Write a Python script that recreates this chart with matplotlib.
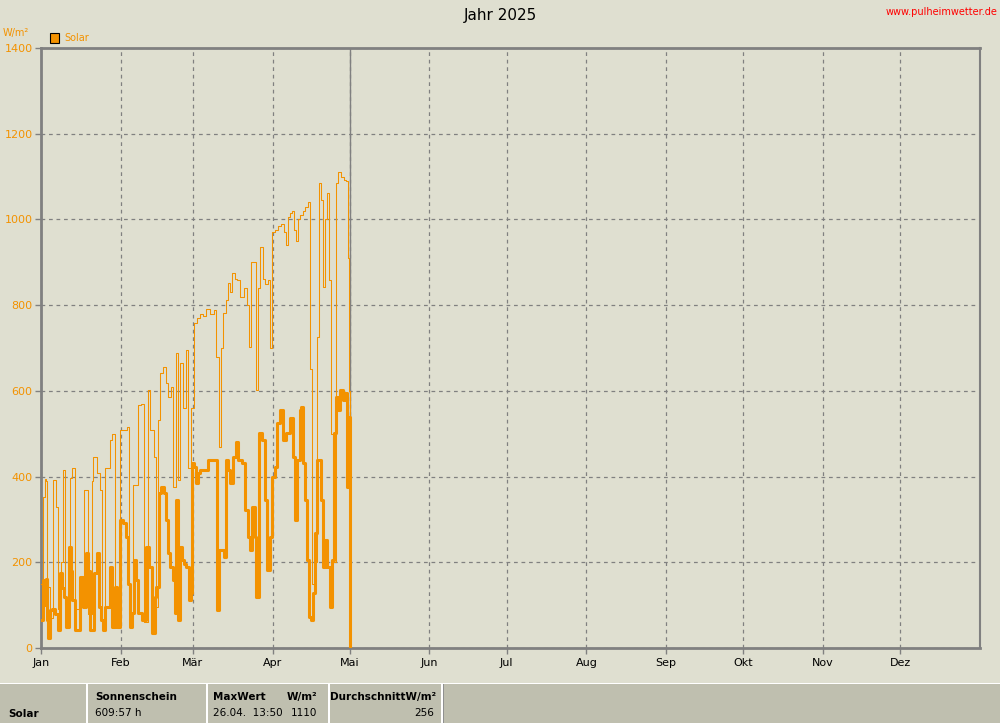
import numpy as np
import matplotlib
matplotlib.use("Agg")
import matplotlib.pyplot as plt
from matplotlib.patches import Rectangle

# month axis
month_start = [0, 31, 59, 90, 120, 151, 181, 212, 243, 273, 304, 334]
month_names = ["Jan", "Feb", "Mär", "Apr", "Mai", "Jun", "Jul", "Aug", "Sep", "Okt", "Nov", "Dez"]

# thin line: daily peak W/m² (day of year, value)
max_days = [0.0, 0.8, 1.6, 1.9, 2.3, 3.5, 4.7, 5.8, 6.6, 7.8, 8.6, 9.3, 10.5, 11.3, 12.0, 13.2,
            14.8, 16.7, 18.3, 19.8, 20.2, 21.8, 22.9, 23.7, 24.9, 26.8, 27.6, 28.8, 29.9, 30.7,
            33.4, 34.2, 35.8, 37.7, 38.9, 40.0, 41.6, 42.4, 43.9, 44.7, 45.5, 46.3, 47.4, 48.6,
            49.4, 50.5, 51.3, 52.5, 53.2, 54.0, 55.2, 56.4, 57.1, 58.3, 59.5, 60.6, 61.8, 63.0,
            64.1, 65.7, 67.2, 68.0, 69.2, 70.0, 70.7, 71.9, 72.7, 73.5, 74.2, 75.4, 76.2, 77.3,
            78.9, 80.1, 80.8, 81.6, 82.8, 83.6, 84.3, 85.1, 86.3, 87.1, 88.2, 89.0, 89.8, 90.9,
            92.1, 93.3, 94.4, 95.2, 96.0, 96.8, 97.6, 98.3, 99.1, 99.9, 100.7, 101.8, 102.6,
            103.8, 104.5, 105.3, 106.5, 107.3, 108.0, 108.8, 109.6, 110.4, 111.2, 111.9, 112.7,
            113.5, 114.7, 115.4, 116.6, 117.8, 118.5, 119.3, 119.7, 120.1]
max_vals = [150, 353, 394, 390, 142, 70, 392, 330, 90, 200, 415, 100, 90, 396, 420, 90,
            150, 368, 80, 390, 446, 408, 368, 60, 420, 485, 500, 80, 120, 509,
            516, 80, 380, 567, 570, 60, 602, 509, 446, 96, 532, 641, 656, 618,
            586, 609, 376, 688, 392, 665, 560, 695, 420, 560, 758, 770, 780, 775,
            790, 780, 789, 680, 470, 700, 781, 812, 851, 830, 874, 860, 858, 820,
            840, 800, 702, 900, 900, 602, 840, 935, 860, 850, 858, 700, 970, 975,
            985, 990, 970, 940, 1005, 1015, 1020, 975, 950, 1000, 1010, 1020, 1030,
            1040, 650, 150, 200, 726, 1085, 1045, 842, 1000, 1061, 858, 500,
            200, 1085, 1110, 1100, 1092, 1090, 910, 600, 0]

# thick line: daily mean W/m²
mean_days = [0.0, 0.8, 1.2, 1.9, 2.3, 2.7, 3.5, 4.3, 5.4, 6.6, 7.4, 8.2, 8.9, 9.7, 10.9, 11.7,
             12.0, 13.2, 14.4, 15.2, 16.3, 17.5, 18.3, 19.0, 20.6, 21.8, 22.5, 23.3, 24.1, 24.9,
             26.8, 27.6, 28.8, 29.5, 30.7, 31.9, 33.0, 33.8, 34.6, 35.4, 36.2, 37.0, 37.7, 39.3,
             40.8, 42.0, 43.1, 44.3, 44.7, 45.9, 46.6, 47.8, 48.6, 49.4, 50.1, 51.3, 52.1, 52.5,
             53.2, 54.0, 54.8, 55.6, 56.4, 57.5, 58.3, 58.7, 59.5, 60.2, 61.0, 61.8, 63.7, 64.9,
             67.2, 68.4, 69.2, 70.0, 71.1, 71.9, 72.7, 73.5, 74.6, 75.8, 76.5, 78.1, 79.3, 80.5,
             81.2, 82.0, 83.2, 83.6, 84.7, 85.9, 87.1, 87.8, 89.0, 89.8, 90.9, 91.7, 92.9, 94.0,
             95.2, 96.8, 97.9, 98.7, 99.5, 100.7, 101.1, 101.8, 102.6, 103.4, 104.2, 104.9, 105.7,
             106.5, 107.3, 108.0, 108.8, 109.6, 110.4, 111.2, 112.3, 113.1, 113.9, 114.7, 115.4,
             116.2, 117.4, 118.1, 118.9, 119.7, 120.1]
mean_vals = [65, 158, 100, 160, 65, 23, 88, 90, 80, 42, 175, 140, 120, 50, 236, 180,
             112, 42, 42, 166, 96, 222, 180, 42, 175, 222, 96, 65, 42, 96,
             189, 49, 142, 49, 299, 292, 259, 150, 49, 82, 205, 159, 82, 65,
             236, 189, 35, 119, 142, 362, 376, 362, 299, 222, 189, 159, 82, 345,
             65, 236, 205, 197, 189, 112, 128, 432, 422, 385, 408, 415, 415, 439,
             439, 89, 229, 229, 213, 439, 415, 385, 446, 481, 439, 432, 322, 259,
             229, 329, 259, 119, 502, 485, 345, 182, 259, 399, 422, 525, 555, 485,
             502, 537, 446, 299, 439, 555, 562, 432, 345, 205, 72, 65, 128,
             268, 439, 439, 345, 189, 252, 189, 96, 205, 502, 586, 555,
             602, 579, 595, 376, 539, 0]

now_day = 120
bg = "#DFDFD0"
orange = "#F39200"
grid_col = "#808080"

fig = plt.figure(figsize=(10, 7.23), dpi=100, facecolor=bg)
ax = fig.add_axes([0.041, 0.1037, 0.939, 0.8299], facecolor=bg)

ax.plot(max_days, max_vals, color=orange, lw=0.75, drawstyle="steps-post", zorder=3)
ax.plot(mean_days, mean_vals, color=orange, lw=2.2, drawstyle="steps-post", zorder=4)
ax.axvline(now_day, color="#808080", lw=1.0, zorder=2)

ax.set_xlim(0, 365)
ax.set_ylim(0, 1400)
ax.set_xticks(month_start)
ax.set_xticklabels(month_names)
ax.set_yticks(range(0, 1401, 200))
ax.tick_params(axis="x", colors=grid_col, labelcolor="black", labelsize=8, length=4, width=1, pad=3)
ax.tick_params(axis="y", colors=grid_col, labelcolor=orange, labelsize=8, length=4, width=1, pad=2)
ax.grid(True, color=grid_col, linestyle=(0, (3, 3)), lw=0.9)
for s in ax.spines.values():
    s.set_color(grid_col)
    s.set_linewidth(2)
ax.spines["right"].set_linewidth(1.5)

# header texts
fig.text(0.5, 0.978, "Jahr 2025", ha="center", va="center", fontsize=11)
fig.text(0.997, 0.983, "www.pulheimwetter.de", ha="right", va="center", fontsize=7, color="red")
fig.text(0.003, 0.955, "W/m²", ha="left", va="center", fontsize=7, color=orange)
fig.patches.append(Rectangle((0.050, 0.941), 0.009, 0.013, transform=fig.transFigure,
                             facecolor=orange, edgecolor="black", lw=0.8))
fig.text(0.064, 0.947, "Solar", ha="left", va="center", fontsize=7, color=orange)

# bottom summary table
H = 723.0
fig.patches.append(Rectangle((0, 0), 1, 40 / H, transform=fig.transFigure,
                             facecolor="#BFBFAF", edgecolor="none"))
fig.patches.append(Rectangle((0, 39 / H), 1, 1.5 / H, transform=fig.transFigure,
                             facecolor="white", edgecolor="none"))
for xs in [86, 206, 328, 441]:
    fig.patches.append(Rectangle((xs / 1000, 0), 1.5 / 1000, 40 / H, transform=fig.transFigure,
                                 facecolor="white", edgecolor="none"))
fig.patches.append(Rectangle((441 / 1000 + 0.0015, 0), 1 / 1000, 39 / H, transform=fig.transFigure,
                             facecolor="#909090", edgecolor="none"))

y1 = 1 - 697 / H
y2 = 1 - 713 / H
fs = 7.5
fig.text(0.008, 1 - 714 / H, "Solar", fontsize=fs, weight="bold", va="center")
fig.text(0.095, y1, "Sonnenschein", fontsize=fs, weight="bold", va="center")
fig.text(0.095, y2, "609:57 h", fontsize=fs, va="center")
fig.text(0.213, y1, "MaxWert", fontsize=fs, weight="bold", va="center")
fig.text(0.317, y1, "W/m²", fontsize=fs, weight="bold", va="center", ha="right")
fig.text(0.213, y2, "26.04.  13:50", fontsize=fs, va="center")
fig.text(0.317, y2, "1110", fontsize=fs, va="center", ha="right")
fig.text(0.330, y1, "DurchschnittW/m²", fontsize=fs, weight="bold", va="center")
fig.text(0.434, y2, "256", fontsize=fs, va="center", ha="right")

fig.savefig("out.png", dpi=100, facecolor=bg)
